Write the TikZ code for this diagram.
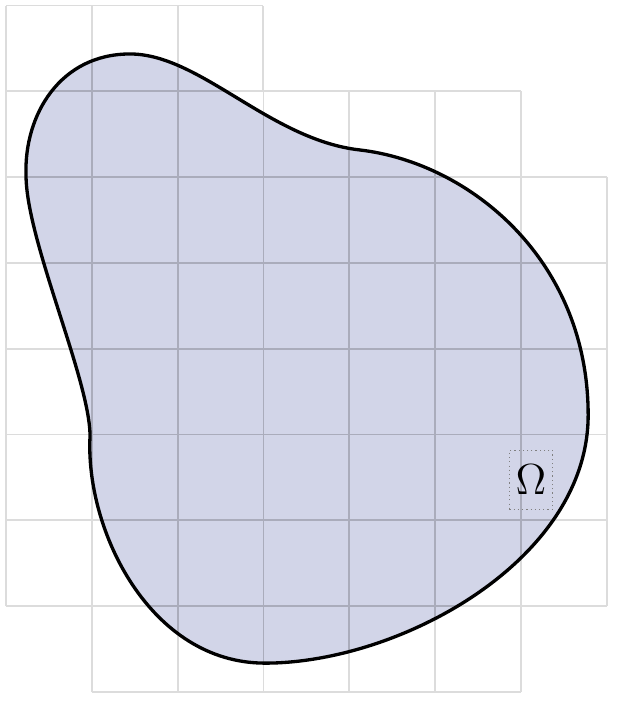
\documentclass[tikz,border=0pt]{standalone}
\definecolor{blobfill}{HTML}{D2D5E8}
\definecolor{gridout}{HTML}{DCDCDC}
\definecolor{gridin}{HTML}{AAACBB}
\tikzset{
  gridline/.style={line width=0.6pt},
  pxcoords/.style={x=0.011655cm, y=-0.011655cm, shift={(-0.0699cm,8.0653cm)}},
  omegabox/.style={draw=gray, densely dotted, line width=0.4pt, minimum width=14.3pt, minimum height=19.6pt, inner sep=0pt, font=\Large},
}
\newcommand{\blobpath}{(130,54) .. controls (200,54) and (270,140) .. (360,150)
 .. controls (470,163) and (588,260) .. (588,415)
 .. controls (588,560) and (400,663) .. (265,663)
 .. controls (150,663) and (85,530) .. (90,436)
 .. controls (90,380) and (26,240) .. (26,175)
 .. controls (24,115) and (60,54) .. (130,54) -- cycle}
\begin{document}
\begin{tikzpicture}
\useasboundingbox (-0.07,-0.128) rectangle (7.144,8.065);
\begin{scope}[gridline, draw=gridout]
\draw (0,7) grid (3,8);
\draw (0,6) grid (6,7);
\draw (0,1) grid (7,6);
\draw (1,0) grid (6,1);
\end{scope}
\fill[pxcoords, blobfill] \blobpath;
\begin{scope}
\clip[pxcoords] \blobpath;
\begin{scope}[gridline, draw=gridin]
\draw (0,7) grid (3,8);
\draw (0,6) grid (6,7);
\draw (0,1) grid (7,6);
\draw (1,0) grid (6,1);
\end{scope}
\end{scope}
\draw[pxcoords, line width=1.1pt, line join=round] \blobpath;
\node[omegabox] (omega) at (6.119,2.471) {$\Omega$};
\end{tikzpicture}
\end{document}
